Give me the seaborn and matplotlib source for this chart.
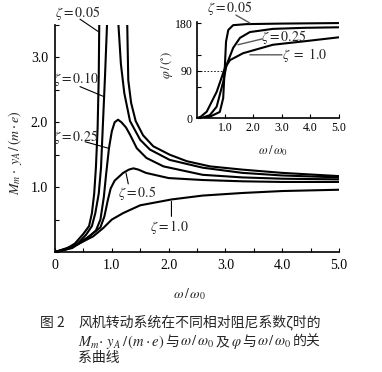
import matplotlib
matplotlib.use("Agg")
import matplotlib.pyplot as plt
import seaborn as sns
from matplotlib.ticker import MultipleLocator, FixedLocator

# Main plot: M*yA/(m*e) against w/w0
z005_left_x = [0, 0.2, 0.35, 0.5, 0.6, 0.65, 0.69, 0.72, 0.75, 0.77, 0.78]
z005_left_y = [0, 0.05, 0.13, 0.28, 0.40, 0.60, 0.90, 1.30, 1.90, 2.70, 3.6]
z005_right_x = [1.27, 1.29, 1.34, 1.42, 1.55, 1.73, 2.02, 2.32, 2.73, 3.3, 4.0, 5.0]
z005_right_y = [3.6, 2.65, 2.30, 2.02, 1.80, 1.63, 1.50, 1.40, 1.32, 1.27, 1.22, 1.17]

z010_left_x = [0, 0.2, 0.4, 0.55, 0.65, 0.71, 0.77, 0.81, 0.84, 0.88, 0.92]
z010_left_y = [0, 0.04, 0.13, 0.27, 0.40, 0.60, 0.90, 1.30, 1.90, 2.70, 3.6]
z010_right_x = [1.11, 1.16, 1.22, 1.32, 1.5, 1.67, 2.02, 2.6, 3.3, 4.0, 5.0]
z010_right_y = [3.6, 2.90, 2.45, 2.02, 1.73, 1.58, 1.42, 1.30, 1.22, 1.18, 1.15]

z025_x = [0, 0.3, 0.55, 0.72, 0.8, 0.86, 0.9, 0.95, 1.0, 1.05, 1.11, 1.17,
          1.25, 1.32, 1.44, 1.61, 1.91, 2.6, 3.3, 4.0, 5.0]
z025_y = [0, 0.06, 0.2, 0.33, 0.5, 0.85, 1.2, 1.6, 1.86, 2.0, 2.04, 2.0,
          1.92, 1.81, 1.60, 1.45, 1.32, 1.19, 1.15, 1.13, 1.12]

z050_x = [0, 0.3, 0.6, 0.8, 0.87, 0.93, 0.98, 1.05, 1.2, 1.3, 1.38, 1.47,
          1.6, 2.0, 2.6, 3.3, 4.0, 5.0]
z050_y = [0, 0.07, 0.24, 0.38, 0.55, 0.8, 0.98, 1.1, 1.22, 1.27, 1.29, 1.27,
          1.22, 1.14, 1.11, 1.09, 1.08, 1.08]

z100_x = [0, 0.38, 0.67, 0.85, 1.0, 1.2, 1.5, 2.05, 2.6, 3.3, 4.0, 5.0]
z100_y = [0, 0.11, 0.24, 0.37, 0.50, 0.60, 0.72, 0.81, 0.87, 0.91, 0.94, 0.96]

# Inset: phase angle (degrees) against w/w0
p005_x = [0, 0.15, 0.47, 0.82, 0.94, 1.0, 1.04, 1.12, 1.29, 1.76, 3.0, 5.0]
p005_y = [0, 0, 3, 12, 38, 100, 145, 167, 176, 178, 179, 180]
p025_x = [0, 0.2, 0.47, 0.71, 0.94, 1.06, 1.29, 1.53, 1.88, 2.69, 3.8, 5.0]
p025_y = [0, 1, 6, 22, 69, 101, 133, 152, 163, 169, 171, 172]
p100_x = [0, 0.15, 0.36, 0.71, 1.0, 1.18, 1.64, 2.69, 3.87, 5.0]
p100_y = [0, 3, 12.5, 50, 95, 110, 123, 139, 146, 153]

main_xticks = [0, 1, 2, 3, 4, 5]
main_xticklabels = ["0", "1.0", "2.0", "3.0", "4.0", "5.0"]
main_yticks = [1, 2, 3]
main_yticklabels = ["1.0", "2.0", "3.0"]
ins_xticks = [1, 2, 3, 4, 5]
ins_xticklabels = ["1.0", "2.0", "3.0", "4.0", "5.0"]
ins_yticks = [0, 90, 180]
ins_yticklabels = ["0", "90", "180"]

sns.set_theme(style="ticks")
plt.rcParams["font.family"] = ["Liberation Serif", "DejaVu Serif"]
plt.rcParams["mathtext.fontset"] = "stix"

W, H = 382, 372
fig = plt.figure(figsize=(W / 100, H / 100), dpi=100)


def fbox(x0, y0, x1, y1):
    # pixel box (top-left origin) -> figure fraction rect
    return [x0 / W, 1 - y1 / H, (x1 - x0) / W, (y1 - y0) / H]


ax = fig.add_axes(fbox(55, 25, 339, 252))
ins = fig.add_axes(fbox(196.5, 22, 338.5, 118.3))
ins.patch.set_alpha(0)

line_kw = dict(color="black", linewidth=1.5, sort=False, estimator=None)
for xs, ys in [
    (z005_left_x, z005_left_y), (z005_right_x, z005_right_y),
    (z010_left_x, z010_left_y), (z010_right_x, z010_right_y),
    (z025_x, z025_y), (z050_x, z050_y), (z100_x, z100_y),
]:
    sns.lineplot(x=xs, y=ys, ax=ax, **line_kw)

for xs, ys in [(p005_x, p005_y), (p025_x, p025_y), (p100_x, p100_y)]:
    sns.lineplot(x=xs, y=ys, ax=ins, **line_kw)

# main axes styling
ax.set_xlim(0, 5.0)
ax.set_ylim(0, 3.5)
ax.set_xticks(main_xticks)
ax.set_xticklabels(main_xticklabels)
ax.set_yticks(main_yticks)
ax.set_yticklabels(main_yticklabels)
ax.xaxis.set_minor_locator(MultipleLocator(0.5))
ax.yaxis.set_minor_locator(MultipleLocator(0.5))
ax.tick_params(which="both", direction="in", length=3, width=0.8,
               labelsize=10, pad=5, colors="black")
sns.despine(ax=ax)
for s in ax.spines.values():
    s.set_linewidth(1.2)
    s.set_color("black")
ax.set_xlabel(r"$\omega\,/\,\omega_0$", fontsize=10)
ax.xaxis.set_label_coords(0.474, -0.15)
ax.set_ylabel(r"$M_m\cdot\;y_A\,/\,(m\cdot e)$", fontsize=10)
ax.yaxis.set_label_coords(-0.11, 0.436)

# inset styling
ins.set_xlim(0, 5.0)
ins.set_ylim(0, 182)
ins.set_xticks(ins_xticks)
ins.set_xticklabels(ins_xticklabels)
ins.set_yticks(ins_yticks)
ins.set_yticklabels(ins_yticklabels)
ins.yaxis.set_minor_locator(FixedLocator([60, 120]))
ins.tick_params(which="both", direction="in", length=3, width=0.8,
                labelsize=8.5, pad=3, colors="black")
sns.despine(ax=ins)
for s in ins.spines.values():
    s.set_linewidth(1.2)
    s.set_color("black")
ins.axhline(90, xmin=0, xmax=0.2, color="black", lw=0.6, ls=(0, (2, 2)))
ins.set_xlabel(r"$\omega\,/\,\omega_0$", fontsize=9)
ins.xaxis.set_label_coords(0.54, -0.26)
ins.set_ylabel(r"$\varphi\,/\,(^{\circ})$", fontsize=9)
ins.yaxis.set_label_coords(-0.15, 0.55)

# curve labels with leader lines
lead = dict(arrowstyle="-", lw=0.8, color="black", shrinkA=0, shrinkB=0)
main_notes = [
    (r"$\zeta=0.05$", (0.40, 3.69), (0.44, 3.59), (0.76, 3.40)),
    (r"$\zeta=0.10$", (0.37, 2.66), (0.44, 2.55), (0.85, 2.40)),
    (r"$\zeta=0.25$", (0.37, 1.77), (0.53, 1.70), (0.94, 1.60)),
    (r"$\zeta=0.5$", (1.44, 0.91), (1.29, 1.05), (1.25, 1.22)),
    (r"$\zeta=1.0$", (2.02, 0.39), (2.05, 0.55), (2.05, 0.78)),
]
for txt, pos, a, b in main_notes:
    ax.text(pos[0], pos[1], txt, ha="center", va="center", fontsize=10,
            clip_on=False)
    ax.annotate("", xy=b, xytext=a, arrowprops=lead, annotation_clip=False)

ins_notes = [
    (r"$\zeta=0.05$", (1.18, 208), (1.39, 195), (1.88, 180)),
    (r"$\zeta=0.25$", (3.05, 154), (2.31, 150), (1.46, 139)),
    (r"$\zeta\ =\ 1.0$", (3.82, 120), (3.01, 120), (1.88, 120)),
]
for txt, pos, a, b in ins_notes:
    ins.text(pos[0], pos[1], txt, ha="center", va="center", fontsize=10,
             clip_on=False)
    ins.annotate("", xy=b, xytext=a, arrowprops=dict(lead, color="0.35", lw=1.0),
                 annotation_clip=False)

# caption, pieces set one after another on a shared baseline
cjk = dict(family=["Noto Sans CJK SC", "DejaVu Sans"], fontsize=10,
           va="baseline", ha="left")
mth = dict(fontsize=10.5, va="baseline", ha="left")
renderer = fig.canvas.get_renderer()


def put_row(x_px, base_px, parts, gap=2.0):
    x = x_px
    for s, kw in parts:
        t = fig.text(x / W, 1 - base_px / H, s, **kw)
        x = t.get_window_extent(renderer).x1 + gap


put_row(40, 327, [("图 2", cjk)])
put_row(78, 327, [("风机转动系统在不同相对阻尼系数ζ时的", cjk)])
put_row(78, 346, [
    (r"$M_m\!\cdot\,y_A\,/\,(m\cdot e)$", mth),
    ("与", cjk),
    (r"$\omega\,/\,\omega_0$", mth),
    ("及", cjk),
    (r"$\varphi$", mth),
    ("与", cjk),
    (r"$\omega\,/\,\omega_0$", mth),
    ("的关", cjk),
], gap=1.0)
put_row(78, 362, [("系曲线", cjk)])

fig.savefig("out.png", dpi=100)
